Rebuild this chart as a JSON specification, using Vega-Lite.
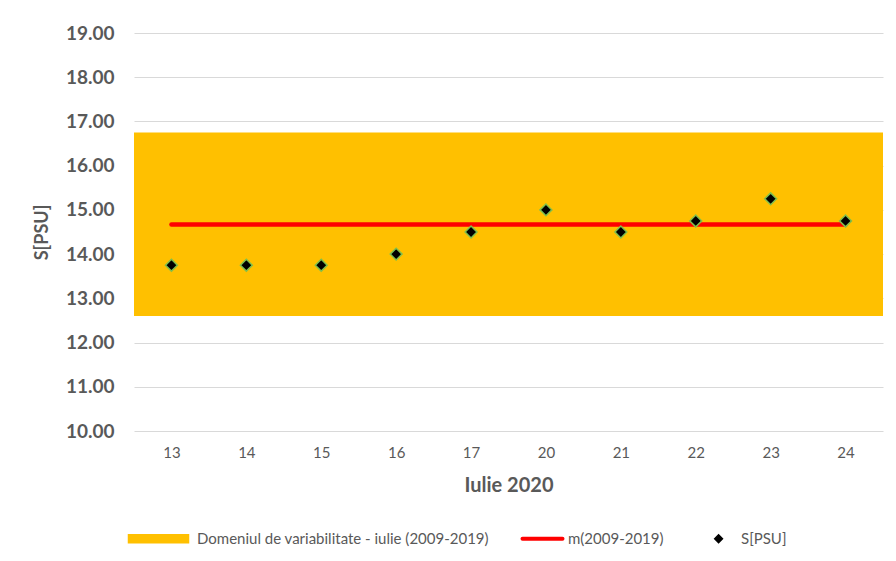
{
  "$schema": "https://vega.github.io/schema/vega-lite/v6.json",
  "width": 749,
  "height": 398,
  "autosize": {"type": "none"},
  "padding": {"left": 134, "top": 33, "right": 13, "bottom": 130},
  "background": "white",
  "config": {
    "view": {"stroke": null},
    "font": "Lato",
    "axis": {"labelColor": "#595959", "titleColor": "#595959", "domain": false, "ticks": false, "labelFont": "Lato", "titleFont": "Lato", "labelOverlap": false, "labelBound": false},
    "legend": {"labelFont": "Lato"}
  },
  "datasets": {
    "salinity": [
      {"day": "13", "S": 13.75, "m": 14.67},
      {"day": "14", "S": 13.75, "m": 14.67},
      {"day": "15", "S": 13.75, "m": 14.67},
      {"day": "16", "S": 14.0, "m": 14.67},
      {"day": "17", "S": 14.5, "m": 14.67},
      {"day": "20", "S": 15.0, "m": 14.67},
      {"day": "21", "S": 14.5, "m": 14.67},
      {"day": "22", "S": 14.75, "m": 14.67},
      {"day": "23", "S": 15.25, "m": 14.67},
      {"day": "24", "S": 14.75, "m": 14.67}
    ],
    "band": [{"lo": 12.6, "hi": 16.75}]
  },
  "layer": [
    {
      "data": {"name": "band"},
      "mark": {"type": "rect"},
      "encoding": {
        "y": {"field": "lo", "type": "quantitative", "scale": {"domain": [10, 19], "nice": false, "zero": false},
          "axis": {"title": "S[PSU]", "format": ".2f", "values": [10,11,12,13,14,15,16,17,18,19], "labelFontSize": 19, "labelFontWeight": "bold", "labelPadding": 20, "titleFontSize": 18, "titleFontWeight": "bold", "titlePadding": 14, "gridColor": "#D9D9D9", "gridWidth": 1}},
        "y2": {"field": "hi"},
        "color": {
          "datum": "Domeniul de variabilitate - iulie (2009-2019)",
          "scale": {"domain": ["Domeniul de variabilitate - iulie (2009-2019)", "m(2009-2019)", "S[PSU]"], "range": ["#FFC000", "#FF0000", "#000000"]},
          "legend": {
            "title": null, "orient": "none", "legendX": 17, "legendY": 498, "direction": "horizontal", "columns": 3,
            "labelFontSize": 15, "labelColor": "#595959", "columnPadding": 25, "labelOffset": 15, "labelLimit": 500,
            "encode": {
              "symbols": {"update": {
                "shape": {"signal": "datum.value === 'S[PSU]' ? 'M4.7,0L5.7,-1L6.7,0L5.7,1Z' : datum.value === 'm(2009-2019)' ? 'stroke' : 'M-1.5,-0.2H1.5V0.2H-1.5Z'"},
                "size": {"signal": "datum.value === 'S[PSU]' ? 60 : 1600"},
                "fill": {"signal": "datum.value === 'S[PSU]' ? '#000000' : datum.value === 'm(2009-2019)' ? 'transparent' : '#FFC000'"},
                "stroke": {"signal": "datum.value === 'S[PSU]' ? '#7FBF4D' : datum.value === 'm(2009-2019)' ? '#FF0000' : 'transparent'"},
                "strokeWidth": {"signal": "datum.value === 'm(2009-2019)' ? 4 : 1.5"},
                "strokeCap": {"value": "round"},
                "opacity": {"value": 1}
              }},
              "labels": {"update": {
                "dx": {"signal": "datum.value === 'S[PSU]' ? 22 : datum.value === 'm(2009-2019)' ? 3 : 16"}
              }}
            }
          }
        }
      }
    },
    {
      "data": {"name": "salinity"},
      "mark": {"type": "line", "strokeWidth": 4.5, "strokeCap": "round"},
      "encoding": {
        "x": {"field": "day", "type": "ordinal", "sort": null, "scale": {"paddingInner": 0, "paddingOuter": 0}, "axis": {"title": "Iulie 2020", "labelAngle": 0, "labelFontSize": 15, "labelPadding": 14, "titleFontSize": 20, "titleFontWeight": "bold", "titlePadding": 15, "grid": false}},
        "y": {"field": "m", "type": "quantitative"},
        "color": {"datum": "m(2009-2019)"}
      }
    },
    {
      "data": {"name": "salinity"},
      "mark": {"type": "point", "shape": "diamond", "filled": true, "size": 140, "stroke": "#7FBF4D", "strokeWidth": 1.5, "opacity": 1},
      "encoding": {
        "x": {"field": "day", "type": "ordinal", "sort": null},
        "y": {"field": "S", "type": "quantitative"},
        "color": {"datum": "S[PSU]"}
      }
    }
  ],
  "resolve": {"scale": {"color": "shared"}},
  "encoding": {}
}
